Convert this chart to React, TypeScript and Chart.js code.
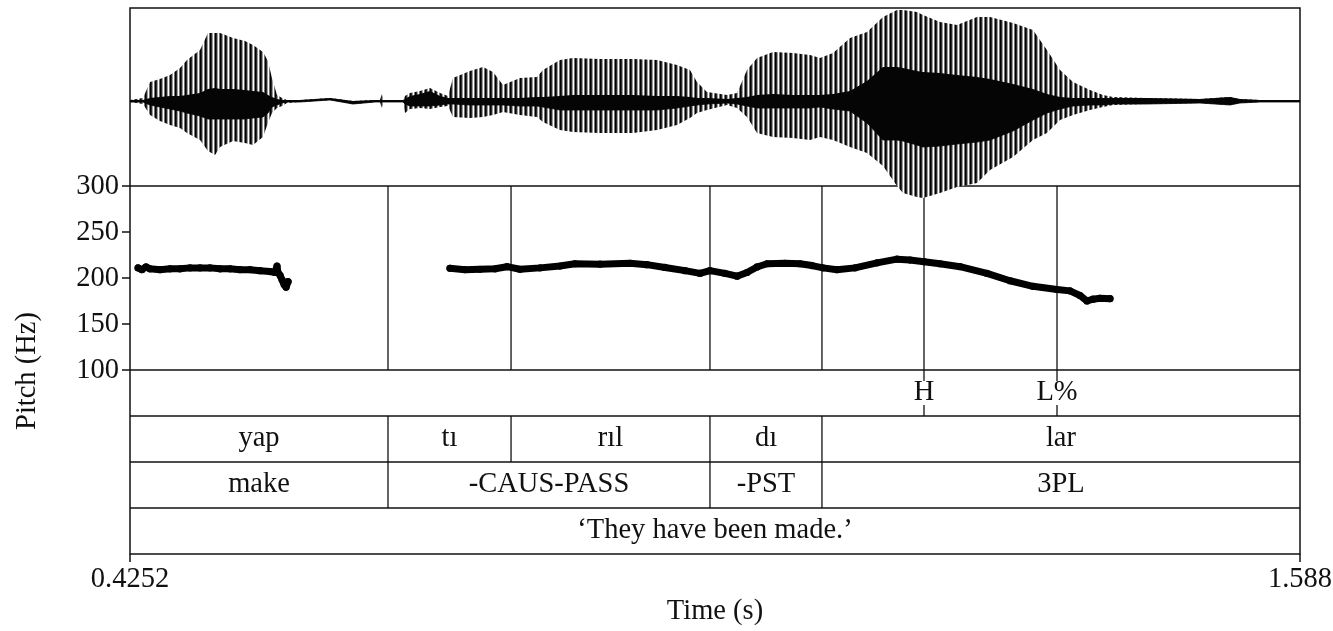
import { useEffect, useRef } from 'react';
import { Chart, registerables } from 'chart.js';

Chart.register(...registerables);

// ---- time range of the excerpt (s) ----
const timeStart = 0.4252;
const timeEnd = 1.588;
const timeTickLabels = ['0.4252', '1.588'];

// ---- pitch axis ----
const pitchTicks = [100, 150, 200, 250, 300];
const pitchMin = 100;
const pitchMax = 300;

// ---- F0 track (two voiced stretches) ----
const pitchTimes1 = [0.4332, 0.4371, 0.4411, 0.4451, 0.455, 0.465, 0.4749, 0.4848, 0.4948, 0.5047, 0.5147, 0.5246, 0.5345, 0.5445, 0.5544, 0.5643, 0.5693, 0.5713, 0.5723, 0.5743, 0.5763, 0.5783, 0.5803, 0.5823];
const pitchHz1 = [211, 209, 212, 210, 209, 210, 210, 211, 211, 211, 210, 210, 209, 209, 208, 207, 206, 213, 206, 203, 198, 193, 190, 196];
const pitchTimes2 = [0.7432, 0.7581, 0.773, 0.788, 0.7999, 0.8128, 0.8327, 0.8525, 0.8674, 0.8923, 0.9221, 0.939, 0.9569, 0.9768, 0.9917, 1.0016, 1.0165, 1.0285, 1.0384, 1.0484, 1.0583, 1.0762, 1.0911, 1.103, 1.1139, 1.1278, 1.1457, 1.1676, 1.1875, 1.2004, 1.2143, 1.2302, 1.2501, 1.2769, 1.2998, 1.3226, 1.3465, 1.3594, 1.3694, 1.3763, 1.3823, 1.3892, 1.3992];
const pitchHz2 = [210.5, 209, 209.5, 210, 212.3, 209.5, 211, 213, 215.5, 215, 216, 214.5, 211.5, 208, 205, 208, 205, 202, 206, 212, 215.5, 216, 215.5, 213.5, 211, 209, 211, 216.5, 220.5, 219.5, 217.7, 215.5, 212.3, 205, 197, 191, 187.5, 186, 181, 175, 177, 178, 177.5];

// ---- waveform envelope (relative amplitude) ----
const waveTimes = [0.4252, 0.4381, 0.4451, 0.455, 0.465, 0.4749, 0.4818, 0.4948, 0.5027, 0.5097, 0.5147, 0.5276, 0.5395, 0.5474, 0.5574, 0.5623, 0.5663, 0.5713, 0.5763, 0.5812, 0.5942, 0.624, 0.6468, 0.6687, 0.6736, 0.6756, 0.6776, 0.6886, 0.6965, 0.6985, 0.7035, 0.7134, 0.7233, 0.7333, 0.7412, 0.7462, 0.7631, 0.776, 0.786, 0.7959, 0.8128, 0.8297, 0.8356, 0.8525, 0.8655, 0.8923, 0.9251, 0.949, 0.9688, 0.9817, 0.9887, 0.9986, 1.0185, 1.0285, 1.0384, 1.0484, 1.0643, 1.0841, 1.101, 1.111, 1.1239, 1.1408, 1.1577, 1.1736, 1.1875, 1.1934, 1.2073, 1.2133, 1.2302, 1.2471, 1.267, 1.2799, 1.3028, 1.3226, 1.3365, 1.3495, 1.3624, 1.3793, 1.3922, 1.4022, 1.4359, 1.4886, 1.5184, 1.5283, 1.5482, 1.588];
const waveUpper = [0.01, 0.03, 0.19, 0.22, 0.26, 0.33, 0.41, 0.51, 0.68, 0.68, 0.68, 0.63, 0.6, 0.56, 0.49, 0.4, 0.23, 0.06, 0.03, 0.01, 0.01, 0.03, 0.0, 0.01, 0.01, 0.07, 0.01, 0.01, 0.01, 0.05, 0.08, 0.1, 0.13, 0.08, 0.05, 0.23, 0.3, 0.34, 0.29, 0.16, 0.23, 0.24, 0.31, 0.41, 0.43, 0.42, 0.42, 0.41, 0.36, 0.31, 0.19, 0.09, 0.06, 0.08, 0.31, 0.43, 0.49, 0.48, 0.46, 0.43, 0.48, 0.63, 0.69, 0.84, 0.91, 0.91, 0.89, 0.86, 0.79, 0.76, 0.84, 0.84, 0.78, 0.71, 0.51, 0.31, 0.19, 0.11, 0.06, 0.04, 0.03, 0.02, 0.04, 0.02, 0.01, 0.01];
const waveLower = [-0.01, -0.03, -0.14, -0.2, -0.24, -0.27, -0.32, -0.39, -0.5, -0.54, -0.46, -0.4, -0.42, -0.44, -0.36, -0.22, -0.12, -0.07, -0.05, -0.02, -0.01, 0.01, -0.03, -0.01, -0.01, -0.07, -0.01, -0.01, -0.01, -0.12, -0.08, -0.07, -0.08, -0.06, -0.05, -0.16, -0.17, -0.16, -0.14, -0.11, -0.14, -0.16, -0.21, -0.29, -0.31, -0.32, -0.32, -0.29, -0.24, -0.17, -0.12, -0.09, -0.04, -0.07, -0.16, -0.32, -0.36, -0.37, -0.39, -0.36, -0.39, -0.46, -0.52, -0.65, -0.85, -0.92, -0.96, -0.97, -0.92, -0.86, -0.82, -0.69, -0.56, -0.39, -0.32, -0.19, -0.14, -0.09, -0.06, -0.04, -0.03, -0.02, -0.04, -0.02, -0.01, -0.01];
const coreUpper = [0.01, 0.01, 0.03, 0.04, 0.05, 0.05, 0.06, 0.08, 0.12, 0.13, 0.12, 0.12, 0.11, 0.1, 0.09, 0.06, 0.04, 0.02, 0.01, 0.01, 0.01, 0.03, 0.0, 0.01, 0.01, 0.01, 0.01, 0.01, 0.01, 0.02, 0.05, 0.07, 0.1, 0.05, 0.03, 0.03, 0.03, 0.03, 0.03, 0.03, 0.03, 0.04, 0.04, 0.05, 0.06, 0.06, 0.06, 0.05, 0.05, 0.04, 0.03, 0.03, 0.02, 0.03, 0.04, 0.06, 0.07, 0.06, 0.06, 0.06, 0.07, 0.1, 0.2, 0.34, 0.34, 0.33, 0.3, 0.29, 0.28, 0.26, 0.24, 0.22, 0.17, 0.12, 0.07, 0.04, 0.03, 0.03, 0.03, 0.03, 0.03, 0.02, 0.04, 0.02, 0.01, 0.01];
const coreLower = [-0.01, -0.01, -0.04, -0.06, -0.08, -0.1, -0.12, -0.15, -0.18, -0.18, -0.18, -0.18, -0.18, -0.17, -0.16, -0.12, -0.06, -0.04, -0.02, -0.01, -0.01, 0.01, -0.03, -0.01, -0.01, -0.01, -0.01, -0.01, -0.01, -0.03, -0.05, -0.05, -0.05, -0.04, -0.03, -0.03, -0.04, -0.04, -0.04, -0.04, -0.05, -0.05, -0.06, -0.09, -0.09, -0.09, -0.09, -0.09, -0.07, -0.05, -0.04, -0.03, -0.02, -0.03, -0.05, -0.07, -0.07, -0.07, -0.07, -0.06, -0.08, -0.1, -0.22, -0.39, -0.39, -0.4, -0.44, -0.46, -0.45, -0.43, -0.41, -0.39, -0.3, -0.19, -0.12, -0.08, -0.05, -0.04, -0.04, -0.03, -0.03, -0.02, -0.04, -0.02, -0.01, -0.01];

// ---- annotation tiers ----
const toneLabels = ['H', 'L%'];
const toneTimes = [1.2143, 1.3465];
const syllableLabels = ['yap', 'tı', 'rıl', 'dı', 'lar'];
const syllableEdges = [0.4252, 0.6816, 0.8039, 1.0016, 1.1129, 1.588];
const glossLabels = ['make', '-CAUS-PASS', '-PST', '3PL'];
const glossEdges = [0.4252, 0.6816, 1.0016, 1.1129, 1.588];
const translationText = '‘They have been made.’';

const xTitle = 'Time (s)';
const yTitle = 'Pitch (Hz)';

const FONT = '28.5px "Liberation Serif", "Times New Roman", serif';
const INK = '#111111';

function pairs(xs: number[], ys: number[]) {
  return xs.map((x, i) => ({ x, y: ys[i] }));
}

export default function App() {
  const canvasRef = useRef<HTMLCanvasElement | null>(null);

  useEffect(() => {
    const canvas = canvasRef.current;
    if (!canvas) return;

    // vertical stripe texture for the glottal-pulse body of the waveform
    const tile = document.createElement('canvas');
    tile.width = 5;
    tile.height = 1;
    const tctx = tile.getContext('2d')!;
    const stripe = ['#000000', '#2a2a2a', '#9a9a9a', '#ffffff', '#707070'];
    stripe.forEach((c, i) => {
      tctx.fillStyle = c;
      tctx.fillRect(i, 0, 1, 1);
    });
    const pulsePattern = canvas.getContext('2d')!.createPattern(tile, 'repeat');

    const pitchData = [
      ...pairs(pitchTimes1, pitchHz1),
      { x: (pitchTimes1[pitchTimes1.length - 1] + pitchTimes2[0]) / 2, y: null as any },
      ...pairs(pitchTimes2, pitchHz2),
    ];

    const frame = {
      id: 'praatFrame',
      beforeDatasetsDraw(chart: any) {
        const { ctx, chartArea } = chart;
        const { left, right, top, bottom } = chartArea;
        const xs = chart.scales.x;
        const ys = chart.scales.y;
        const ts = chart.scales.t;
        const px = (t: number) => xs.getPixelForValue(t);
        const tierY = (v: number) => ts.getPixelForValue(v);
        const yTop = ys.getPixelForValue(pitchMax);
        const yBot = ys.getPixelForValue(pitchMin);

        ctx.save();
        ctx.strokeStyle = INK;
        ctx.lineWidth = 1.5;
        ctx.lineCap = 'butt';

        const line = (x1: number, y1: number, x2: number, y2: number) => {
          ctx.beginPath();
          ctx.moveTo(x1, y1);
          ctx.lineTo(x2, y2);
          ctx.stroke();
        };

        // outer box
        ctx.strokeRect(left, top, right - left, bottom - top);
        // pitch panel borders
        line(left, yTop, right, yTop);
        line(left, yBot, right, yBot);
        // tier separators
        [1, 2, 3].forEach((v) => line(left, tierY(v), right, tierY(v)));

        // pitch ticks
        pitchTicks.forEach((v) => {
          const y = ys.getPixelForValue(v);
          line(left - 8, y, left, y);
        });
        // time ticks at both ends
        line(left, bottom, left, bottom + 8);
        line(right, bottom, right, bottom + 8);

        // boundaries through the pitch panel
        ctx.lineWidth = 1.3;
        const inner = [...syllableEdges.slice(1, -1), ...toneTimes];
        inner.forEach((t) => line(px(t), yTop, px(t), yBot));
        // syllable tier boundaries
        syllableEdges.slice(1, -1).forEach((t) => line(px(t), tierY(3), px(t), tierY(2)));
        // gloss tier boundaries
        glossEdges.slice(1, -1).forEach((t) => line(px(t), tierY(2), px(t), tierY(1)));
        // tone points
        toneTimes.forEach((t) => line(px(t), tierY(4), px(t), tierY(3)));

        // ---- text ----
        ctx.font = FONT;
        ctx.fillStyle = INK;
        ctx.textBaseline = 'middle';
        ctx.textAlign = 'center';

        toneLabels.forEach((lab, i) => {
          const x = px(toneTimes[i]);
          const y = (tierY(4) + tierY(3)) / 2;
          const w = ctx.measureText(lab).width;
          ctx.fillStyle = '#ffffff';
          ctx.fillRect(x - w / 2 - 1, y - 12, w + 2, 24);
          ctx.fillStyle = INK;
          ctx.fillText(lab, x, y);
        });
        syllableLabels.forEach((lab, i) => {
          const x = (px(syllableEdges[i]) + px(syllableEdges[i + 1])) / 2;
          ctx.fillText(lab, x, (tierY(3) + tierY(2)) / 2);
        });
        glossLabels.forEach((lab, i) => {
          const x = (px(glossEdges[i]) + px(glossEdges[i + 1])) / 2;
          ctx.fillText(lab, x, (tierY(2) + tierY(1)) / 2);
        });
        ctx.fillText(translationText, (left + right) / 2, (tierY(1) + tierY(0)) / 2);

        // time axis labels
        ctx.fillText(timeTickLabels[0], px(timeStart), bottom + 26);
        ctx.fillText(timeTickLabels[1], px(timeEnd), bottom + 26);
        ctx.fillText(xTitle, (left + right) / 2, bottom + 58);

        // pitch axis labels
        ctx.textAlign = 'right';
        pitchTicks.forEach((v) => {
          ctx.fillText(String(v), left - 11, ys.getPixelForValue(v) + 1);
        });
        ctx.save();
        ctx.translate(28, 371);
        ctx.rotate(-Math.PI / 2);
        ctx.textAlign = 'center';
        ctx.fillText(yTitle, 0, 0);
        ctx.restore();

        ctx.restore();
      },
    };

    const chart = new Chart(canvas, {
      type: 'line',
      data: {
        datasets: [
          {
            label: 'F0',
            data: pitchData,
            yAxisID: 'y',
            borderColor: '#000000',
            backgroundColor: '#000000',
            borderWidth: 7,
            borderCapStyle: 'round',
            borderJoinStyle: 'round',
            pointRadius: 3.6,
            pointBorderWidth: 0,
            spanGaps: false,
            tension: 0,
            order: 0,
          },
          {
            label: 'core upper',
            data: pairs(waveTimes, coreUpper),
            yAxisID: 'w',
            borderWidth: 0,
            borderColor: 'rgba(0,0,0,0)',
            backgroundColor: '#050505',
            pointRadius: 0,
            fill: '+1',
            tension: 0,
            order: 1,
          },
          {
            label: 'core lower',
            data: pairs(waveTimes, coreLower),
            yAxisID: 'w',
            borderWidth: 0.8,
            borderColor: '#050505',
            pointRadius: 0,
            fill: false,
            tension: 0,
            order: 1,
          },
          {
            label: 'wave upper',
            data: pairs(waveTimes, waveUpper),
            yAxisID: 'w',
            borderWidth: 0,
            borderColor: 'rgba(0,0,0,0)',
            backgroundColor: pulsePattern as any,
            pointRadius: 0,
            fill: '+1',
            tension: 0,
            order: 2,
          },
          {
            label: 'wave lower',
            data: pairs(waveTimes, waveLower),
            yAxisID: 'w',
            borderWidth: 0,
            borderColor: 'rgba(0,0,0,0)',
            pointRadius: 0,
            fill: false,
            tension: 0,
            order: 2,
          },
        ],
      },
      options: {
        responsive: false,
        animation: false,
        devicePixelRatio: 1,
        events: [],
        layout: { padding: { left: 130, right: 33, top: 8, bottom: 77 } },
        plugins: { legend: { display: false }, tooltip: { enabled: false } },
        scales: {
          x: { type: 'linear', axis: 'x', position: 'bottom', min: timeStart, max: timeEnd, display: false },
          y: { type: 'linear', axis: 'y', position: 'left', min: -100, max: 493.478, display: false },
          w: { type: 'linear', axis: 'y', position: 'left', min: -4.53, max: 0.93, display: false },
          t: { type: 'linear', axis: 'y', position: 'left', min: 0, max: 11.8696, display: false },
        },
      },
      plugins: [frame],
    });

    return () => chart.destroy();
  }, []);

  return (
    <div style={{ position: 'fixed', left: 0, top: 0, width: 1333, height: 631, background: '#ffffff' }}>
      <canvas ref={canvasRef} width={1333} height={631} />
    </div>
  );
}
